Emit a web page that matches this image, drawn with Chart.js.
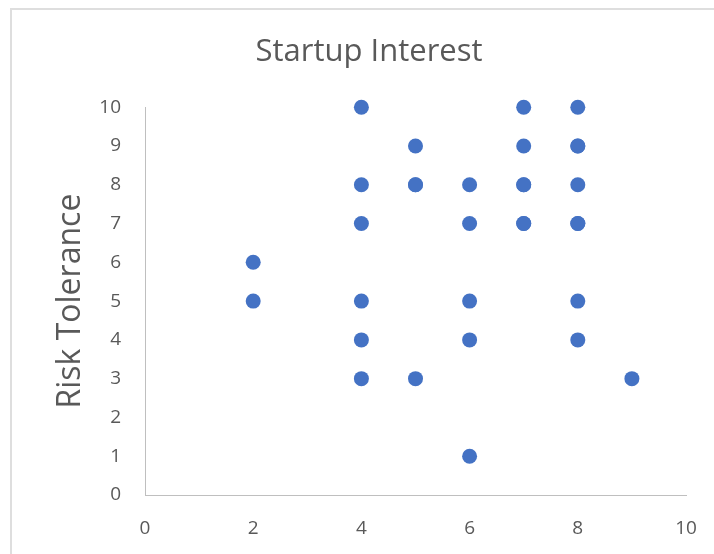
<!DOCTYPE html>
<html>
<head>
<meta charset="utf-8">
<script src="https://cdn.jsdelivr.net/npm/chart.js@4/dist/chart.umd.min.js"></script>
<style>
  html, body { margin: 0; padding: 0; background: #ffffff; overflow: hidden; }
  #frame { position: absolute; left: 10px; top: 8px; width: 800px; height: 700px;
           border-left: 2px solid #dedede; border-top: 2px solid #dedede; }
  #wrap { position: absolute; left: 0; top: 0; width: 714px; height: 554px; }
</style>
</head>
<body>
<div id="frame"></div>
<div id="wrap"><canvas id="chart" width="714" height="554"></canvas></div>
<script>
// Startup interest (x) against risk tolerance (y), one entry per respondent
const startupInterest = [2, 2, 4, 4, 4, 4, 4, 4, 5, 5, 5, 5, 6, 6, 6, 6, 6, 7, 7, 7, 7, 7, 7, 8, 8, 8, 8, 8, 8, 8, 8, 9];
const riskTolerance   = [6, 5, 10, 8, 7, 5, 4, 3, 9, 8, 8, 3, 8, 7, 5, 4, 1, 10, 9, 8, 8, 7, 7, 10, 9, 9, 8, 7, 7, 5, 4, 3];
const xTickValues = [0, 2, 4, 6, 8, 10];
const yTickValues = [0, 1, 2, 3, 4, 5, 6, 7, 8, 9, 10];

const points = startupInterest.map((x, i) => ({ x: x, y: riskTolerance[i] }));

const FONT = "'Open Sans', sans-serif";
const TEXT = '#595959';
const AXIS = '#bfbfbf';

new Chart(document.getElementById('chart'), {
  type: 'scatter',
  data: {
    datasets: [{
      label: 'Risk Tolerance',
      data: points,
      backgroundColor: '#4472c4',
      borderColor: '#4472c4',
      borderWidth: 0,
      pointRadius: 7.5,
      pointHoverRadius: 7.5,
      clip: false
    }]
  },
  options: {
    responsive: false,
    animation: false,
    layout: { padding: { left: 52, right: 28, top: 0, bottom: 0 } },
    plugins: {
      legend: { display: false },
      tooltip: { enabled: false },
      title: {
        display: true,
        text: 'Startup Interest',
        color: TEXT,
        font: { family: FONT, size: 31, weight: 'normal' },
        padding: { top: 34, bottom: 36 }
      }
    },
    scales: {
      x: {
        type: 'linear',
        min: 0, max: 10,
        afterBuildTicks: (axis) => { axis.ticks = xTickValues.map(v => ({ value: v })); },
        afterFit: (axis) => { axis.height = 59; axis.paddingLeft = 0; axis.paddingRight = 0; },
        grid: { display: false, drawTicks: false },
        border: { display: true, color: AXIS, width: 1 },
        ticks: { color: TEXT, font: { family: FONT, size: 19 }, padding: 22 }
      },
      y: {
        type: 'linear',
        min: 0, max: 10,
        afterBuildTicks: (axis) => { axis.ticks = yTickValues.map(v => ({ value: v })); },
        afterFit: (axis) => { axis.width = 93; axis.paddingTop = 0; axis.paddingBottom = 0; },
        grid: { display: false, drawTicks: false },
        border: { display: true, color: AXIS, width: 1 },
        ticks: { color: TEXT, font: { family: FONT, size: 19 }, padding: 24 },
        title: {
          display: true,
          text: 'Risk Tolerance',
          color: TEXT,
          font: { family: FONT, size: 32, weight: 'normal' },
          padding: { top: 0, bottom: 0 }
        }
      }
    }
  }
});
</script>
</body>
</html>
